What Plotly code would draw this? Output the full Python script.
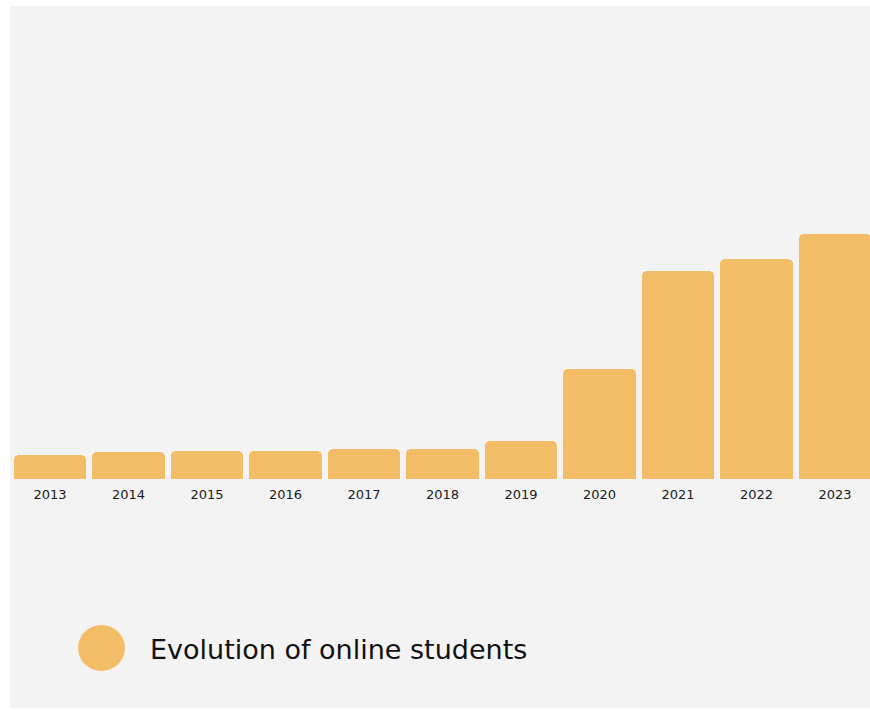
import plotly.graph_objects as go

years = ["2013", "2014", "2015", "2016", "2017", "2018", "2019", "2020", "2021", "2022", "2023"]
students = [24, 27, 28, 28, 30, 30, 38, 110, 208, 220, 245]
series_name = "Evolution of online students"

BAR_COLOR = "#F3BD67"
BG = "#F3F3F3"

W, H = 870, 710
ml, mr, mt, mb = 10, 0, 6, 2
pw, ph = W - ml - mr, H - mt - mb
base_px = 479
dom0 = (H - mb - base_px) / ph

fig = go.Figure()
fig.add_trace(go.Bar(
    x=list(range(len(years))), y=students, name=series_name,
    marker=dict(color=BAR_COLOR, cornerradius=5, line=dict(width=0)),
    width=0.92, showlegend=False, hoverinfo="x+y",
))

pitch = 78.5
x0 = -(50 - ml) / pitch
x1 = x0 + pw / pitch

fig.update_layout(
    width=W, height=H,
    margin=dict(l=ml, r=mr, t=mt, b=mb),
    paper_bgcolor="white", plot_bgcolor="rgba(0,0,0,0)",
    bargap=0,
    xaxis=dict(range=[x0, x1], tickmode="array", tickvals=list(range(len(years))),
               ticktext=years, showgrid=False, zeroline=False, showline=False,
               ticks="outside", ticklen=3, tickcolor="rgba(0,0,0,0)",
               tickfont=dict(family="DejaVu Sans", size=13, color="#1a1a1a"),
               fixedrange=True),
    yaxis=dict(domain=[dom0, 1], range=[0, base_px - mt], showgrid=False,
               zeroline=False, showticklabels=False, fixedrange=True),
    shapes=[
        dict(type="rect", xref="paper", yref="paper", x0=0, x1=1, y0=0, y1=1,
             fillcolor=BG, line=dict(width=0), layer="below"),
        dict(type="circle", xref="paper", yref="paper",
             x0=(78 - ml) / pw, x1=(125 - ml) / pw,
             y0=(H - mb - 671) / ph, y1=(H - mb - 625) / ph,
             fillcolor=BAR_COLOR, line=dict(width=0)),
    ],
    annotations=[
        dict(text=series_name, xref="paper", yref="paper",
             x=(148 - ml) / pw, y=(H - mb - 649) / ph, xanchor="left", yanchor="middle",
             showarrow=False, font=dict(family="DejaVu Sans", size=27, color="#111111")),
    ],
)

fig.write_html("out.html", config={"displayModeBar": False},
               post_script="document.body.style.margin='0';document.body.style.overflow='hidden';")
